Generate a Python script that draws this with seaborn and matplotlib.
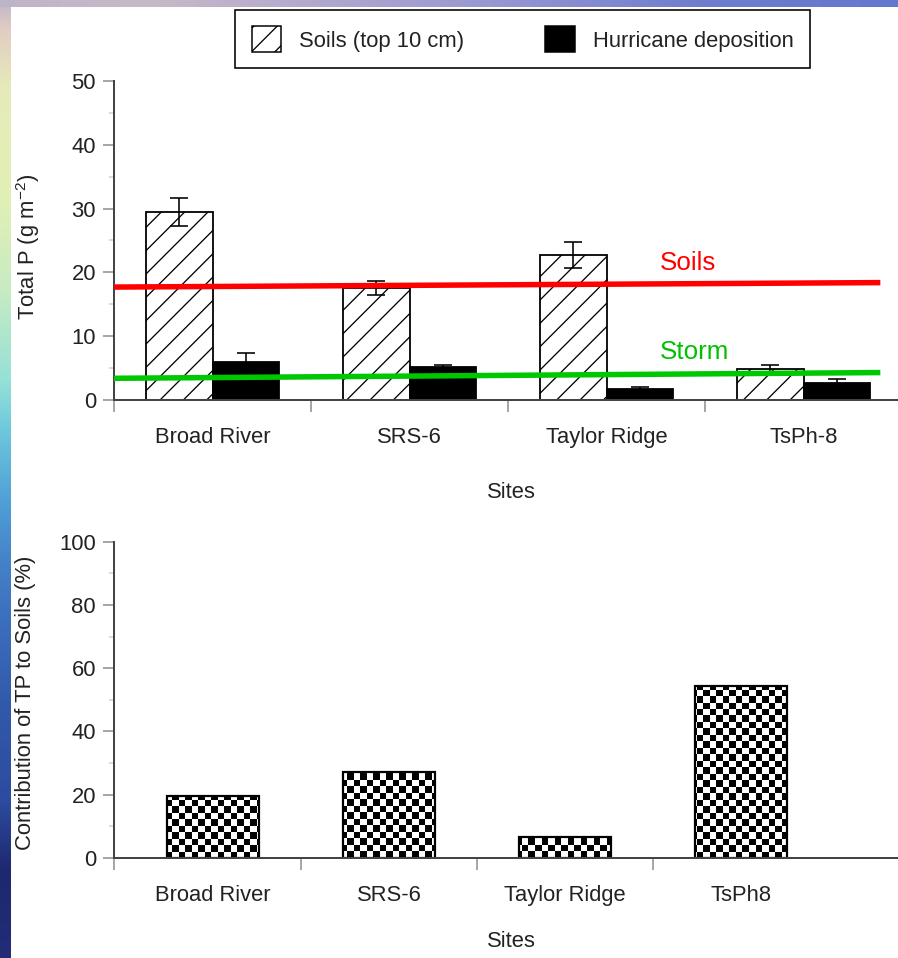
import numpy as np
import pandas as pd
import matplotlib
matplotlib.use("Agg")
import matplotlib.pyplot as plt
import seaborn as sns
from matplotlib.patches import Patch
from matplotlib.ticker import FixedLocator, FixedFormatter, NullFormatter, MultipleLocator

# ---------------- data ----------------
sites_top = ["Broad River", "SRS-6", "Taylor Ridge", "TsPh-8"]
series_names = ["Soils (top 10 cm)", "Hurricane deposition"]
soils_tp = [29.5, 17.6, 22.7, 4.8]
soils_err = [2.2, 1.1, 2.0, 0.7]
hurricane_tp = [6.0, 5.1, 1.7, 2.7]
hurricane_err = [1.3, 0.4, 0.3, 0.6]

sites_bottom = ["Broad River", "SRS-6", "Taylor Ridge", "TsPh8"]
contribution = [19.6, 27.3, 6.5, 54.5]

line_labels = ["Soils", "Storm"]
soils_line = [17.7, 18.4]
storm_line = [3.4, 4.3]
line_x = [-0.5, 3.39]

top_yticks = [0, 10, 20, 30, 40, 50]
bottom_yticks = [0, 20, 40, 60, 80, 100]

# ---------------- setup ----------------
DPI = 70
W, H = 898, 958


def px(v):
    return v * 72.0 / DPI


sns.set_style("ticks")
plt.rcParams["font.family"] = ["Liberation Sans", "DejaVu Sans"]
plt.rcParams["mathtext.fontset"] = "custom"
plt.rcParams["mathtext.rm"] = "Liberation Sans"
plt.rcParams["mathtext.it"] = "Liberation Sans:italic"
plt.rcParams["mathtext.bf"] = "Liberation Sans:bold"
plt.rcParams["hatch.linewidth"] = px(1.3)

FS = px(22)
TXT = "#222222"

fig = plt.figure(figsize=(W / DPI + 1e-4, H / DPI + 1e-4), dpi=DPI)

# ---------------- background (slide gradient edges) ----------------
bg = fig.add_axes([0, 0, 1, 1], zorder=-10)
img = np.ones((H, W, 3))
ly = [0, 30, 90, 200, 290, 380, 430, 500, 560, 620, 700, 800, 870, 958]
lc = np.array([
    [190, 180, 200], [225, 205, 195], [230, 235, 185], [225, 240, 180],
    [200, 235, 195], [150, 225, 215], [110, 200, 220], [80, 160, 215],
    [70, 130, 200], [60, 110, 190], [50, 90, 170], [45, 75, 160],
    [30, 40, 110], [35, 45, 120]], dtype=float)
ys = np.arange(H)
left = np.stack([np.interp(ys, ly, lc[:, k]) for k in range(3)], axis=1) / 255
img[:, :11, :] = left[:, None, :]
tx = [0, 150, 300, 500, 700, 898]
tc = np.array([[190, 180, 200], [200, 185, 200], [180, 170, 205],
               [150, 150, 210], [110, 125, 205], [100, 120, 205]], dtype=float)
xs_ = np.arange(W)
top = np.stack([np.interp(xs_, tx, tc[:, k]) for k in range(3)], axis=1) / 255
img[:8, :, :] = top[None, :, :]
bg.imshow(img, extent=[0, 1, 0, 1], aspect="auto", interpolation="nearest")
bg.axis("off")


def style_axes(ax, yticks, yminor):
    for s in ["top", "right"]:
        ax.spines[s].set_visible(False)
    for s in ["left", "bottom"]:
        ax.spines[s].set_color("#444444")
        ax.spines[s].set_linewidth(px(2))
    ax.set_facecolor("none")
    ax.set_yticks(yticks)
    ax.yaxis.set_minor_locator(MultipleLocator(yminor))
    ax.tick_params(axis="y", which="major", length=px(11), width=px(1.5),
                   color="#8a8a8a", labelsize=FS, pad=px(7), labelcolor=TXT)
    ax.tick_params(axis="y", which="minor", length=px(5), width=px(1.5),
                   color="#cfcfcf")


def cat_ticks(ax, labels, left_lim):
    n = len(labels)
    ax.xaxis.set_major_locator(FixedLocator([left_lim] + [i + 0.5 for i in range(n - 1)]))
    ax.xaxis.set_major_formatter(NullFormatter())
    ax.xaxis.set_minor_locator(FixedLocator(list(range(n))))
    ax.xaxis.set_minor_formatter(FixedFormatter(labels))
    ax.tick_params(axis="x", which="major", length=px(12), width=px(1.5),
                   color="#8a8a8a")
    ax.tick_params(axis="x", which="minor", length=0, labelsize=FS,
                   pad=px(27), labelcolor=TXT)


# ---------------- top chart ----------------
ax1 = fig.add_axes([114 / W, 1 - 400 / H, (W - 114) / W, (400 - 81) / H])
df_top = pd.DataFrame({
    "site": sites_top * 2,
    "series": [series_names[0]] * len(sites_top) + [series_names[1]] * len(sites_top),
    "tp": soils_tp + hurricane_tp,
})
sns.barplot(data=df_top, x="site", y="tp", hue="series", order=sites_top,
            hue_order=series_names, palette=["white", "black"], saturation=1,
            width=0.68, edgecolor="black", linewidth=px(1.8), errorbar=None,
            legend=False, ax=ax1)
for bar in ax1.containers[0]:
    bar.set_hatch("/")
for cont, vals, errs in zip(ax1.containers, [soils_tp, hurricane_tp],
                            [soils_err, hurricane_err]):
    cx = [b.get_x() + b.get_width() / 2 for b in cont]
    ax1.errorbar(cx, vals, yerr=errs, fmt="none", ecolor="black",
                 elinewidth=px(1.6), capsize=px(9), capthick=px(1.6), zorder=3)

ax1.plot(line_x, soils_line, color="#ff0000", lw=px(5.5),
         solid_capstyle="butt", zorder=5)
ax1.plot(line_x, storm_line, color="#00c800", lw=px(5.5),
         solid_capstyle="butt", zorder=5)
ax1.text(2.27, 20.4, line_labels[0], color="#ff0000", fontsize=px(26),
         va="baseline", ha="left", zorder=6)
ax1.text(2.27, 6.4, line_labels[1], color="#00c000", fontsize=px(26),
         va="baseline", ha="left", zorder=6)

style_axes(ax1, top_yticks, 5)
left1 = -0.5
ax1.set_xlim(left1, left1 + (W - 114) / 197)
ax1.set_ylim(0, 50)
cat_ticks(ax1, sites_top, left1)
ax1.set_xlabel("Sites", fontsize=FS, color=TXT)
ax1.xaxis.set_label_coords((511 - 114) / (W - 114), (400 - 482) / 319)
ax1.set_ylabel(r"Total P (g m$^{\mathregular{-2}}$)", fontsize=FS, color=TXT)
ax1.yaxis.set_label_coords((42 - 114) / (W - 114), 0.48)

# ---------------- bottom chart ----------------
ax2 = fig.add_axes([114 / W, 1 - 858 / H, (W - 114) / W, (858 - 541.7) / H])
sns.barplot(x=sites_bottom, y=contribution, order=sites_bottom, color="white",
            saturation=1, edgecolor="black", linewidth=px(2.2), width=0.52,
            errorbar=None, ax=ax2)

ncol, nrow = 121, 49
checker = (np.add.outer(np.arange(nrow), np.arange(ncol)) % 2).astype(float)
for bar in list(ax2.patches):
    z = bar.get_zorder()
    im = ax2.imshow(checker, cmap="gray", vmin=0, vmax=1, extent=[0, 1, 0, 1],
                    transform=ax2.transAxes, interpolation="nearest",
                    aspect="auto", zorder=z - 0.1)
    im.set_clip_path(bar)
    bar.set_facecolor("none")

style_axes(ax2, bottom_yticks, 10)
left2 = -(213 - 114) / 176
ax2.set_xlim(left2, left2 + (W - 114) / 176)
ax2.set_ylim(0, 100)
cat_ticks(ax2, sites_bottom, left2)
ax2.set_xlabel("Sites", fontsize=FS, color=TXT)
ax2.xaxis.set_label_coords((511 - 114) / (W - 114), (858 - 931) / 316.3)
ax2.set_ylabel("Contribution of TP to Soils (%)", fontsize=FS, color=TXT)
ax2.yaxis.set_label_coords((36 - 114) / (W - 114), 0.49)

# ---------------- legend ----------------
handles = [Patch(facecolor="white", edgecolor="black", hatch="/", lw=px(1.5)),
           Patch(facecolor="black", edgecolor="black", lw=px(1.5))]
leg = fig.legend(handles=handles, labels=series_names, ncol=2,
                 loc="upper left", mode="expand",
                 bbox_to_anchor=(235 / W, 1 - 68 / H, 575 / W, 58 / H),
                 frameon=True, fancybox=False, framealpha=1,
                 edgecolor="black", fontsize=FS, handlelength=1.36,
                 handleheight=1.4, handletextpad=0.8, columnspacing=1.6,
                 borderpad=0.75, borderaxespad=0)
leg.get_frame().set_linewidth(px(1.6))
for t in leg.get_texts():
    t.set_color(TXT)

fig.savefig("out.png", dpi=DPI)
